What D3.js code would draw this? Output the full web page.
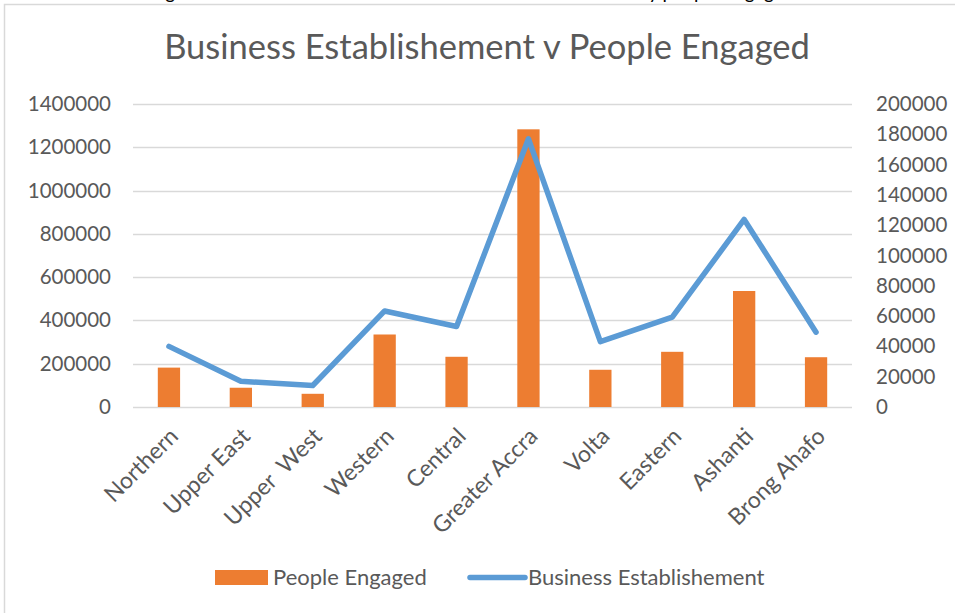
<!DOCTYPE html>
<html>
<head>
<meta charset="utf-8">
<script src="https://cdn.jsdelivr.net/npm/d3@7"></script>
<style>
  html, body { margin: 0; padding: 0; background: #fff; }
  svg { display: block; }
  text { font-family: Lato, "Open Sans", sans-serif; }
</style>
</head>
<body>
<svg id="chart" width="955" height="613"></svg>
<script>
// Regions of Ghana
const regions = ["Northern", "Upper East", "Upper  West", "Western", "Central",
                 "Greater Accra", "Volta", "Eastern", "Ashanti", "Brong Ahafo"];
// Persons engaged (left axis, bars)
const peopleEngaged = [182000, 89000, 61000, 335000, 232000, 1283000, 172000, 255000, 536000, 230000];
// Business establishments (right axis, line)
const businessEstablishments = [40000, 17000, 14200, 63400, 53100, 177000, 43200, 59300, 123800, 49400];
// Axis ticks
const leftTicks = [0, 200000, 400000, 600000, 800000, 1000000, 1200000, 1400000];
const rightTicks = [0, 20000, 40000, 60000, 80000, 100000, 120000, 140000, 160000, 180000, 200000];

const titleText = "Business Establishement v People Engaged";
const barName = "People Engaged";
const lineName = "Business Establishement";

const svg = d3.select("#chart");
const textColor = "#595959";
const gridColor = "#d9d9d9";
const orange = "#ED7D31";
const blue = "#5B9BD5";

const plot = { left: 133, right: 852, top: 104, bottom: 407 };

// chart frame
svg.append("rect")
  .attr("x", 4.5).attr("y", 4.5)
  .attr("width", 970).attr("height", 620)
  .attr("fill", "#fff").attr("stroke", gridColor).attr("stroke-width", 1.5);

// caption line of the surrounding document, mostly above the frame
const caption = svg.append("text")
  .attr("y", -1.5)
  .attr("fill", "#000").attr("font-size", 19);
caption.append("tspan").attr("x", 150).text("Figure 2: Business establishments in each area");
caption.append("tspan").attr("x", 638).text("by people engaged");

const x = d3.scaleBand().domain(regions).range([plot.left, plot.right]).padding(0);
const yL = d3.scaleLinear().domain([0, 1400000]).range([plot.bottom, plot.top]);
const yR = d3.scaleLinear().domain([0, 200000]).range([plot.bottom, plot.top]);

// gridlines
svg.append("g").selectAll("line").data(leftTicks).join("line")
  .attr("x1", plot.left).attr("x2", plot.right)
  .attr("y1", d => Math.round(yL(d)) + 0.5).attr("y2", d => Math.round(yL(d)) + 0.5)
  .attr("stroke", gridColor).attr("stroke-width", 1.5);

// left axis
const leftAxis = svg.append("g")
  .attr("transform", `translate(${plot.left - 22},0)`)
  .call(d3.axisLeft(yL).tickValues(leftTicks).tickSize(0).tickPadding(0).tickFormat(d3.format("d")));
leftAxis.select(".domain").remove();
leftAxis.selectAll("text").attr("fill", textColor).attr("font-size", 20.5).attr("font-family", "Lato, sans-serif");

// right axis
const rightAxis = svg.append("g")
  .attr("transform", `translate(${plot.right + 24},0)`)
  .call(d3.axisRight(yR).tickValues(rightTicks).tickSize(0).tickPadding(0).tickFormat(d3.format("d")));
rightAxis.select(".domain").remove();
rightAxis.selectAll("text").attr("fill", textColor).attr("font-size", 20.5).attr("font-family", "Lato, sans-serif");

// bars
const barW = x.bandwidth() * 0.31;
svg.append("g").selectAll("rect").data(regions).join("rect")
  .attr("x", d => x(d) + x.bandwidth() / 2 - barW / 2)
  .attr("width", barW)
  .attr("y", (d, i) => yL(peopleEngaged[i]))
  .attr("height", (d, i) => yL(0) - yL(peopleEngaged[i]))
  .attr("fill", orange);

// line
const line = d3.line()
  .x((d, i) => x(regions[i]) + x.bandwidth() / 2)
  .y(d => yR(d));
svg.append("path")
  .datum(businessEstablishments)
  .attr("d", line)
  .attr("fill", "none").attr("stroke", blue)
  .attr("stroke-width", 5.5).attr("stroke-linejoin", "round").attr("stroke-linecap", "round");

// category labels
svg.append("g").selectAll("text").data(regions).join("text")
  .attr("transform", d => `translate(${x(d) + x.bandwidth() / 2 + 5},432) rotate(-45)`)
  .attr("text-anchor", "end").attr("dy", "0.35em")
  .attr("fill", textColor).attr("font-size", 23)
  .attr("xml:space", "preserve")
  .style("white-space", "pre")
  .text(d => d);

// title
svg.append("text")
  .attr("x", 487).attr("y", 59)
  .attr("text-anchor", "middle")
  .attr("fill", textColor).attr("font-size", 34.5)
  .text(titleText);

// legend
const lg = svg.append("g");
lg.append("rect").attr("x", 215).attr("y", 570).attr("width", 53).attr("height", 15).attr("fill", orange);
lg.append("text").attr("x", 273).attr("y", 585).attr("fill", textColor).attr("font-size", 22).text(barName);
lg.append("line").attr("x1", 470).attr("x2", 525).attr("y1", 577.5).attr("y2", 577.5)
  .attr("stroke", blue).attr("stroke-width", 5.5).attr("stroke-linecap", "round");
lg.append("text").attr("x", 528).attr("y", 585).attr("fill", textColor).attr("font-size", 22).text(lineName);
</script>
</body>
</html>
